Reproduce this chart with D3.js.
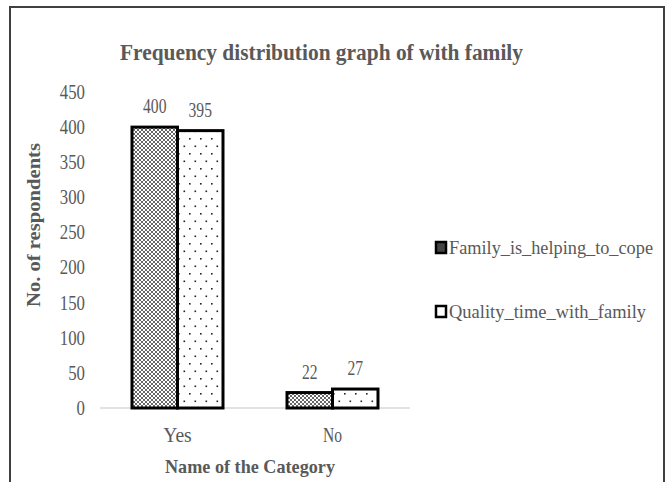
<!DOCTYPE html>
<html>
<head>
<meta charset="utf-8">
<script src="https://d3js.org/d3.v7.min.js"></script>
<style>
  body { margin: 0; background: #fff; }
  svg text { font-family: "Liberation Serif", "Times New Roman", serif; fill: #595959; }
</style>
</head>
<body>
<div id="chart"></div>
<script>
// data
var categories = ["Yes", "No"];
var seriesNames = ["Family_is_helping_to_cope", "Quality_time_with_family"];
var familyHelping = [400, 22];
var qualityTime = [395, 27];
var yTicks = [0, 50, 100, 150, 200, 250, 300, 350, 400, 450];

var W = 668, H = 482;
var plot = {left: 100, right: 410, top: 92, bottom: 408};
var serif = "Liberation Serif, Times New Roman, serif";

var svg = d3.select("#chart").append("svg")
  .attr("width", W).attr("height", H);

var defs = svg.append("defs");
// crosshatch fill
var hatch = defs.append("pattern").attr("id", "hatch")
  .attr("patternUnits", "userSpaceOnUse").attr("width", 4).attr("height", 4);
hatch.append("rect").attr("width", 4).attr("height", 4).attr("fill", "#fff");
hatch.append("path").attr("d", "M0,0L4,4M4,0L0,4")
  .attr("stroke", "#555").attr("stroke-width", 0.9);
// dotted fill
var dots = defs.append("pattern").attr("id", "dots")
  .attr("patternUnits", "userSpaceOnUse").attr("width", 11).attr("height", 15);
dots.append("rect").attr("width", 11).attr("height", 15).attr("fill", "#fff");
dots.append("rect").attr("x", 2).attr("y", 3).attr("width", 1.6).attr("height", 1.6).attr("fill", "#222");
dots.append("rect").attr("x", 7.5).attr("y", 10.5).attr("width", 1.6).attr("height", 1.6).attr("fill", "#222");

var fills = ["url(#hatch)", "url(#dots)"];

// outer frame
svg.append("rect").attr("x", 10).attr("y", 7).attr("width", 654).attr("height", 500)
  .attr("fill", "none").attr("stroke", "#404040").attr("stroke-width", 2);

var x0 = d3.scaleBand().domain(categories).range([plot.left, plot.right])
  .paddingInner(0.413).paddingOuter(0.2065);
var x1 = d3.scaleBand().domain(seriesNames).range([0, x0.bandwidth()]);
var y = d3.scaleLinear().domain([0, 450]).range([plot.bottom, plot.top]);

// y axis labels
var yAxis = svg.append("g").attr("transform", "translate(" + plot.left + ",0)")
  .call(d3.axisLeft(y).tickValues(yTicks).tickSize(0).tickPadding(15));
yAxis.select(".domain").remove();
yAxis.attr("font-family", serif);
yAxis.selectAll("text")
  .attr("font-family", serif).attr("font-size", 20).attr("fill", "#595959")
  .attr("textLength", function(d) { return String(d).length * 8.4; })
  .attr("lengthAdjust", "spacingAndGlyphs");

// baseline
svg.append("line").attr("x1", plot.left).attr("x2", plot.right)
  .attr("y1", y(0)).attr("y2", y(0))
  .attr("stroke", "#d9d9d9").attr("stroke-width", 1.5);

var rows = categories.map(function(c, i) {
  return {cat: c, vals: [familyHelping[i], qualityTime[i]]};
});

var groups = svg.selectAll("g.grp").data(rows).enter().append("g")
  .attr("class", "grp")
  .attr("transform", function(d) { return "translate(" + x0(d.cat) + ",0)"; });

groups.selectAll("rect").data(function(d) {
    return d.vals.map(function(v, j) { return {name: seriesNames[j], v: v, j: j}; });
  }).enter().append("rect")
  .attr("x", function(d) { return x1(d.name); })
  .attr("y", function(d) { return y(d.v); })
  .attr("width", x1.bandwidth())
  .attr("height", function(d) { return y(0) - y(d.v); })
  .attr("fill", function(d) { return fills[d.j]; })
  .attr("stroke", "#000").attr("stroke-width", 3);

groups.selectAll("text.val").data(function(d) {
    return d.vals.map(function(v, j) { return {name: seriesNames[j], v: v}; });
  }).enter().append("text")
  .attr("class", "val")
  .attr("x", function(d) { return x1(d.name) + x1.bandwidth() / 2; })
  .attr("y", function(d) { return y(d.v) - 14; })
  .attr("text-anchor", "middle")
  .attr("font-family", serif).attr("font-size", 20)
  .attr("textLength", function(d) { return String(d.v).length * 7.8; })
  .attr("lengthAdjust", "spacingAndGlyphs")
  .text(function(d) { return d.v; });

// category labels
svg.selectAll("text.cat").data(categories).enter().append("text")
  .attr("class", "cat")
  .attr("x", function(d) { return x0(d) + x0.bandwidth() / 2; })
  .attr("y", 442)
  .attr("text-anchor", "middle")
  .attr("font-family", serif).attr("font-size", 20)
  .attr("textLength", function(d) { return d.length * 9.5; })
  .attr("lengthAdjust", "spacingAndGlyphs")
  .text(function(d) { return d; });

// title
svg.append("text").attr("x", 120).attr("y", 60)
  .attr("font-family", serif).attr("font-size", 24).attr("font-weight", "bold")
  .attr("fill", "#4a4a4a")
  .attr("textLength", 403).attr("lengthAdjust", "spacingAndGlyphs")
  .text("Frequency  distribution  graph of with  family");

// axis titles
svg.append("text").attr("x", 165).attr("y", 473)
  .attr("font-family", serif).attr("font-size", 19).attr("font-weight", "bold")
  .attr("textLength", 170).attr("lengthAdjust", "spacingAndGlyphs")
  .text("Name  of the  Category");

svg.append("text").attr("transform", "translate(40,225) rotate(-90)")
  .attr("text-anchor", "middle")
  .attr("font-family", serif).attr("font-size", 19).attr("font-weight", "bold")
  .attr("textLength", 164).attr("lengthAdjust", "spacingAndGlyphs")
  .text("No. of respondents");

// legend
var legY = [248, 312];
var legW = [204, 197];
var leg = svg.selectAll("g.leg").data(seriesNames).enter().append("g")
  .attr("class", "leg")
  .attr("transform", function(d, i) { return "translate(436," + legY[i] + ")"; });
leg.append("rect").attr("x", 0).attr("y", -6).attr("width", 10).attr("height", 11)
  .attr("fill", function(d, i) { return i === 0 ? "#444" : "#fff"; })
  .attr("stroke", "#000").attr("stroke-width", 2.5);
leg.append("text").attr("x", 13).attr("y", 6)
  .attr("font-family", serif).attr("font-size", 19)
  .attr("textLength", function(d, i) { return legW[i]; })
  .attr("lengthAdjust", "spacingAndGlyphs")
  .text(function(d) { return d; });
</script>
</body>
</html>
